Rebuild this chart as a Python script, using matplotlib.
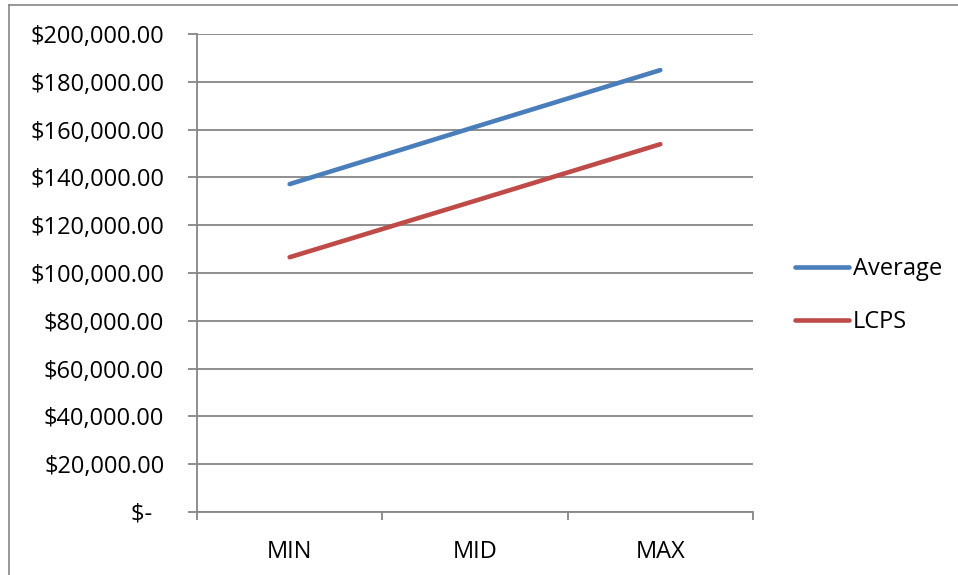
import matplotlib
matplotlib.use("Agg")
import matplotlib.pyplot as plt
from matplotlib.lines import Line2D
from matplotlib.ticker import FuncFormatter, MultipleLocator

# salary bands
categories = ["MIN", "MID", "MAX"]
average_pay = [137200, 161100, 184900]
lcps_pay = [106600, 130200, 153900]

BLUE = "#4A7EBB"
RED = "#BE4B48"
GRID = "#868686"

plt.rcParams["font.family"] = ["Open Sans", "DejaVu Sans"]
plt.rcParams["font.size"] = 17

fig = plt.figure(figsize=(9.58, 5.75), dpi=100)
ax = fig.add_axes([197 / 958, 63 / 575, 556 / 958, 478 / 575])

x = range(len(categories))
ax.plot(x, average_pay, color=BLUE, lw=3.3, solid_capstyle="round", label="Average")
ax.plot(x, lcps_pay, color=RED, lw=3.3, solid_capstyle="round", label="LCPS")

ax.set_xlim(-0.5, len(categories) - 0.5)
ax.set_ylim(0, 200000)
ax.yaxis.set_major_locator(MultipleLocator(20000))


def money(v, _pos):
    if v == 0:
        return "$-  "
    return f"${v:,.2f}"


ax.yaxis.set_major_formatter(FuncFormatter(money))
ax.grid(axis="y", color=GRID, lw=1.3)
ax.set_axisbelow(True)

# category labels sit between boundary tick marks
ax.set_xticks([i - 0.5 for i in range(len(categories) + 1)])
ax.set_xticklabels([])
ax.set_xticks(list(x), minor=True)
ax.set_xticklabels(categories, minor=True)
ax.tick_params(axis="x", which="major", length=6, width=1.3, color=GRID)
ax.tick_params(axis="x", which="minor", length=0, pad=20)
ax.tick_params(axis="y", length=6.5, width=1.3, color=GRID, pad=17)

for side in ("top", "right"):
    ax.spines[side].set_visible(False)
for side in ("left", "bottom"):
    ax.spines[side].set_color(GRID)
    ax.spines[side].set_linewidth(1.3)

handles, labels = ax.get_legend_handles_labels()
fig.legend(handles, labels, loc="upper left", bbox_to_anchor=(795 / 958, 0.553),
           bbox_transform=fig.transFigure, frameon=False, borderpad=0,
           borderaxespad=0, handlelength=2.3, handletextpad=0.15, labelspacing=1.23)

# chart frame
fig.add_artist(Line2D([8.5 / 958, 8.5 / 958], [0, 570.5 / 575], transform=fig.transFigure,
                      color=GRID, lw=1.2))
fig.add_artist(Line2D([8.5 / 958, 1], [570.5 / 575, 570.5 / 575], transform=fig.transFigure,
                      color=GRID, lw=1.2))

fig.savefig("out.png", dpi=100)
